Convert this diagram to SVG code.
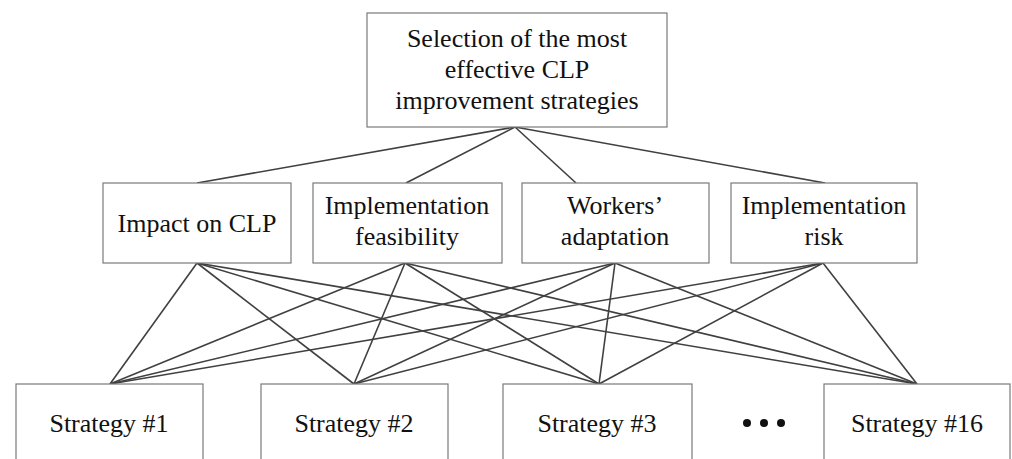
<svg xmlns="http://www.w3.org/2000/svg" width="1012" height="459" viewBox="0 0 1012 459">
  <style>
    .box { fill: #ffffff; stroke: #7a7a7a; stroke-width: 1.2; }
    .lbl { font-family: "Liberation Serif", "Times New Roman", Times, "Tinos", "Noto Serif", "DejaVu Serif", serif; font-size: 26px; fill: #111111; text-anchor: middle; }
    .edge { stroke: #404040; stroke-width: 1.6; fill: none; }
  </style>
  <rect width="1012" height="459" fill="#ffffff"/>

  <!-- connectors -->
  <g id="connectors">
    <!-- goal to criteria -->
    <line class="edge" x1="515" y1="127" x2="197" y2="183"/>
    <line class="edge" x1="515" y1="127" x2="406" y2="183"/>
    <line class="edge" x1="515" y1="127" x2="576" y2="183"/>
    <line class="edge" x1="515" y1="127" x2="825" y2="183"/>
    <!-- criteria to strategies -->
    <line class="edge" x1="197" y1="263" x2="110" y2="384"/>
    <line class="edge" x1="197" y1="263" x2="354" y2="384"/>
    <line class="edge" x1="197" y1="263" x2="599" y2="384"/>
    <line class="edge" x1="197" y1="263" x2="917" y2="384"/>
    <line class="edge" x1="405" y1="263" x2="110" y2="384"/>
    <line class="edge" x1="405" y1="263" x2="354" y2="384"/>
    <line class="edge" x1="405" y1="263" x2="599" y2="384"/>
    <line class="edge" x1="405" y1="263" x2="917" y2="384"/>
    <line class="edge" x1="615" y1="263" x2="110" y2="384"/>
    <line class="edge" x1="615" y1="263" x2="354" y2="384"/>
    <line class="edge" x1="615" y1="263" x2="599" y2="384"/>
    <line class="edge" x1="615" y1="263" x2="917" y2="384"/>
    <line class="edge" x1="823" y1="263" x2="110" y2="384"/>
    <line class="edge" x1="823" y1="263" x2="354" y2="384"/>
    <line class="edge" x1="823" y1="263" x2="599" y2="384"/>
    <line class="edge" x1="823" y1="263" x2="917" y2="384"/>
  </g>

  <g id="goal">
    <rect class="box" x="367" y="13" width="300" height="114"/>
    <text class="lbl" x="517" y="47">Selection of the most</text>
    <text class="lbl" x="517" y="78">effective CLP</text>
    <text class="lbl" x="517" y="109">improvement strategies</text>
  </g>

  <g id="criterion-impact">
    <rect class="box" x="103" y="183" width="188" height="80"/>
    <text class="lbl" x="197" y="232">Impact on CLP</text>
  </g>
  <g id="criterion-feasibility">
    <rect class="box" x="313" y="183" width="189" height="80"/>
    <text class="lbl" x="407" y="214">Implementation</text>
    <text class="lbl" x="407" y="245">feasibility</text>
  </g>
  <g id="criterion-adaptation">
    <rect class="box" x="522" y="183" width="187" height="80"/>
    <text class="lbl" x="615" y="214">Workers’</text>
    <text class="lbl" x="615" y="245">adaptation</text>
  </g>
  <g id="criterion-risk">
    <rect class="box" x="731" y="183" width="186" height="80"/>
    <text class="lbl" x="824" y="214">Implementation</text>
    <text class="lbl" x="824" y="245">risk</text>
  </g>

  <g id="strategy-1">
    <rect class="box" x="16" y="384" width="187" height="90"/>
    <text class="lbl" x="109" y="432">Strategy #1</text>
  </g>
  <g id="strategy-2">
    <rect class="box" x="261" y="384" width="187" height="90"/>
    <text class="lbl" x="354" y="432">Strategy #2</text>
  </g>
  <g id="strategy-3">
    <rect class="box" x="503" y="384" width="189" height="90"/>
    <text class="lbl" x="597" y="432">Strategy #3</text>
  </g>
  <g id="ellipsis">
    <circle cx="747" cy="423" r="4" fill="#111111"/>
    <circle cx="764" cy="423" r="4" fill="#111111"/>
    <circle cx="781" cy="423" r="4" fill="#111111"/>
  </g>
  <g id="strategy-16">
    <rect class="box" x="824" y="384" width="186" height="90"/>
    <text class="lbl" x="917" y="432">Strategy #16</text>
  </g>
</svg>
